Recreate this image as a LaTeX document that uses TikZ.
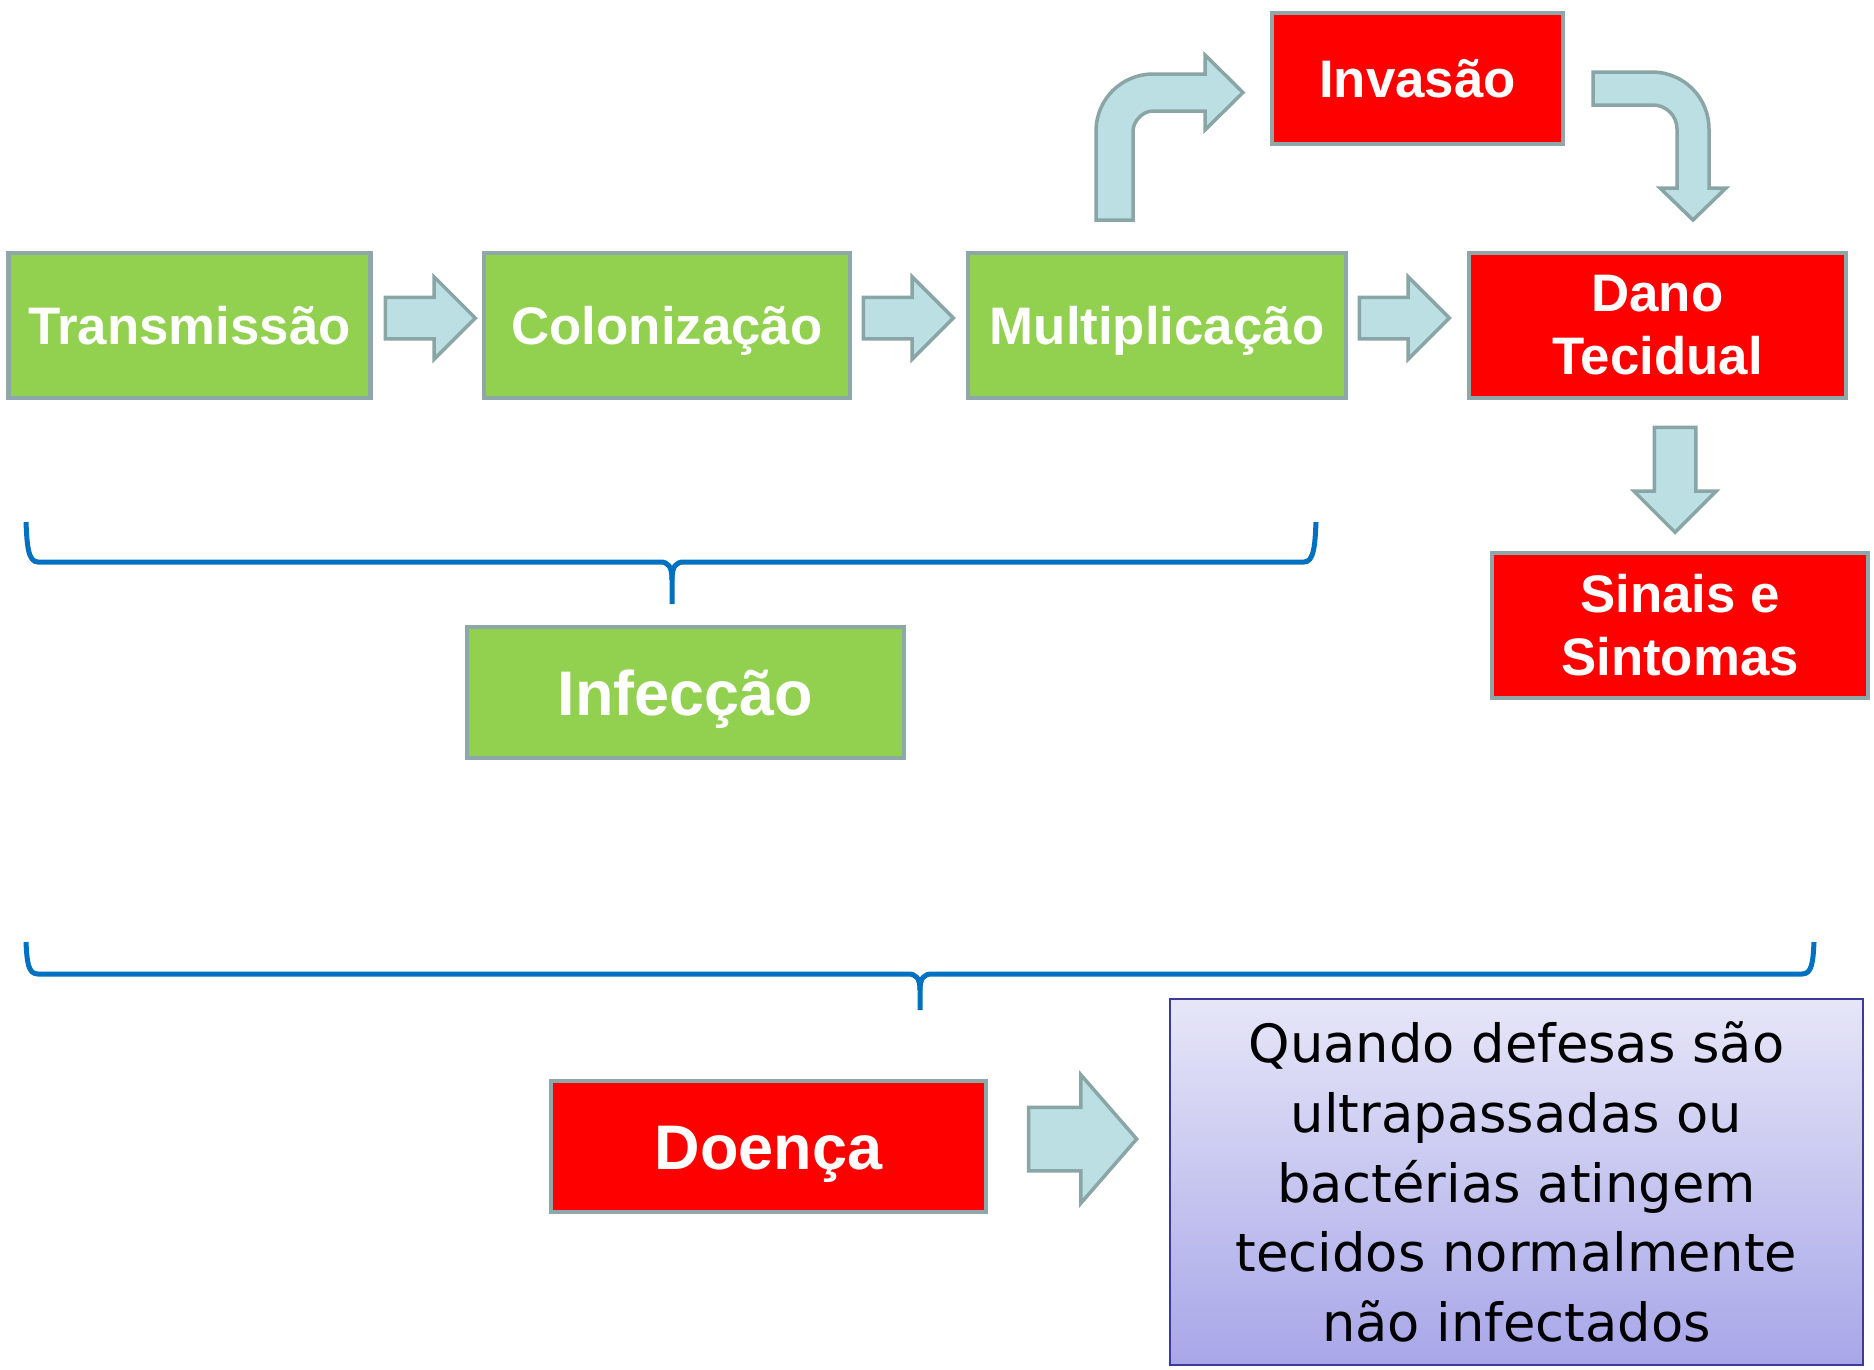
\documentclass[tikz,border=0pt]{standalone}
\usepackage{fontspec}
\setmainfont{Liberation Sans}
\newfontfamily\textofonte{DejaVu Sans}
\usepackage{tikz}
\usetikzlibrary{shapes.arrows}
\usetikzlibrary{calc}
\usepackage{xcolor}
\definecolor{verdebox}{HTML}{92D050}
\definecolor{vermelhobox}{HTML}{FF0000}
\definecolor{bordabox}{HTML}{8EA7A8}
\definecolor{setafundo}{HTML}{BBDFE2}
\definecolor{setaborda}{HTML}{8AA5A6}
\definecolor{chave}{HTML}{0070C0}
\definecolor{roxotopo}{HTML}{E6E6F8}
\definecolor{roxobase}{HTML}{A8A6E8}
\definecolor{roxoborda}{HTML}{3C3C98}
\tikzset{
  caixa/.style={draw=bordabox, line width=4.5pt, text=white, inner sep=0pt, align=center,
    minimum height=145pt, font=\bfseries\fontsize{52.8}{63}\selectfont},
  caixaverde/.style={caixa, fill=verdebox},
  caixavermelha/.style={caixa, fill=vermelhobox},
  umalinha/.style={text height=37.8pt, text depth=0pt},
  grande/.style={font=\bfseries\fontsize{63}{75}\selectfont, text height=45.1pt, text depth=0pt},
  seta/.style={single arrow, draw=setaborda, fill=setafundo, line width=3.5pt, inner xsep=0pt,
    inner ysep=19pt, single arrow head extend=20.5pt, minimum height=90pt, anchor=tip},
  setacurva/.style={draw=setaborda, fill=setafundo, line width=3.5pt},
  chaveta/.style={draw=chave, line width=5pt}
}

\begin{document}
\begin{tikzpicture}[x=1pt, y=-1pt]
    \useasboundingbox (0,0) rectangle (1874,1369);
    % caixas
    \node[caixaverde, umalinha, minimum width=362pt] (transm) at (189.5,325.5) {Transmissão};
    \node[caixaverde, umalinha, minimum width=366pt] (coloniz) at (667,325.5) {Colonização};
    \node[caixaverde, umalinha, minimum width=378pt] (multip) at (1157,325.5) {Multiplicação};
    \node[caixavermelha, minimum width=377pt] (dano) at (1657.5,325.5) {Dano\\Tecidual};
    \node[caixavermelha, umalinha, minimum width=291pt, minimum height=131pt] (invasao) at (1417.5,78.5) {Invasão};
    \node[caixavermelha, minimum width=376pt] (sinais) at (1680,625.5) {Sinais e\\Sintomas};
    \node[caixaverde, grande, minimum width=437pt, minimum height=131pt] (infec) at (685.5,692.5) {Infecção};
    \node[caixavermelha, grande, minimum width=435pt, minimum height=131pt] (doenca) at (768.5,1146.5) {Doença};
    \node[draw=roxoborda, line width=2pt, top color=roxotopo, bottom color=roxobase, inner sep=0pt,
      minimum width=693pt, minimum height=366pt, align=center,
      font=\textofonte\fontsize{52.7}{69.7}\selectfont] (texto) at (1516.5,1182)
      {Quando defesas são\\ultrapassadas ou\\bactérias atingem\\tecidos normalmente\\não infectados};
    % setas retas
    \node[seta] (s1) at ($(coloniz.west)+(-4,-7.5)$) {};
    \node[seta] (s2) at ($(multip.west)+(-10,-7.5)$) {};
    \node[seta] (s3) at ($(dano.west)+(-15,-7.5)$) {};
    \node[seta, rotate=-90, minimum height=105pt] (s4) at ($(sinais.north)+(-5,-16)$) {};
    \node[seta, inner ysep=30pt, single arrow head extend=32.5pt, single arrow tip angle=98, minimum height=108pt] (s5) at ($(texto.west)+(-30,-43)$) {};
    % setas curvas
    \draw[setacurva] (1096,220) -- (1096,131) .. controls (1096,99.5) and (1121.5,74) .. (1153,74)
      -- (1205,74) -- (1205,55) -- (1243,92.5) -- (1205,130) -- (1205,111) -- (1153,111)
      .. controls (1142,111) and (1133,122) .. (1133,131) -- (1133,220) -- cycle;
    \draw[setacurva] (1593,72) -- (1652,72) .. controls (1683.5,72) and (1709,97.5) .. (1709,129)
      -- (1709,188) -- (1726,188) -- (1693,220) -- (1660,188) -- (1677,188) -- (1677,129)
      .. controls (1677,115.7) and (1666,105) .. (1653,105) -- (1593,105) -- cycle;
    % chaves
    \draw[chaveta] (26,522) .. controls (27,545) and (28,562) .. (38,562) -- (660,562)
      .. controls (668,562) and (672,566) .. (672,580) -- (672,604);
    \draw[chaveta] (672,580) .. controls (672,566) and (676,562) .. (684,562) -- (1304,562)
      .. controls (1314,562) and (1315,545) .. (1316,522);
    \draw[chaveta] (26,942) .. controls (27,962) and (28,974) .. (38,974) -- (908,974)
      .. controls (916,974) and (920,978) .. (920,990) -- (920,1010);
    \draw[chaveta] (920,990) .. controls (920,978) and (924,974) .. (932,974) -- (1802,974)
      .. controls (1812,974) and (1813,962) .. (1814,942);
\end{tikzpicture}
\end{document}
